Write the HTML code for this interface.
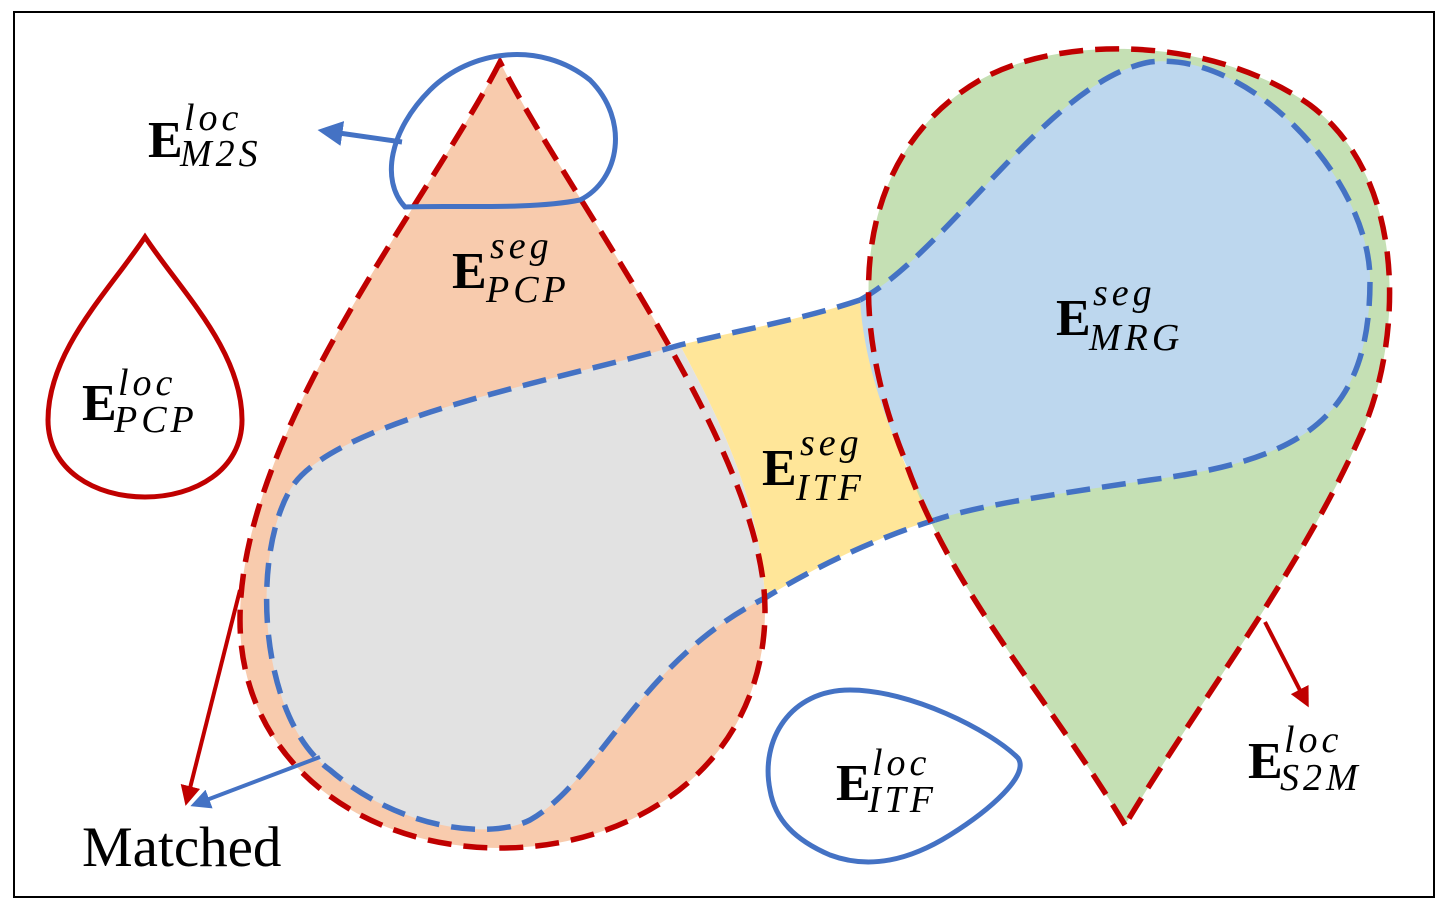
<!DOCTYPE html>
<html><head><meta charset="utf-8"><style>
html,body{margin:0;padding:0;background:#fff;}
svg{display:block;}
.E{font-family:"Liberation Serif",serif;font-weight:bold;font-size:52px;fill:#000;}
.s{font-family:"Liberation Serif",serif;font-style:italic;font-size:38px;fill:#000;letter-spacing:4px;}
</style></head><body>
<svg width="1448" height="909" viewBox="0 0 1448 909" xmlns="http://www.w3.org/2000/svg">
<defs>
<marker id="ab" markerWidth="5" markerHeight="5" refX="3.5" refY="2.5" orient="auto" markerUnits="strokeWidth"><path d="M0,0 L5,2.5 L0,5 Z" fill="#4472C4"/></marker>
<marker id="ar" markerWidth="5" markerHeight="5" refX="3.5" refY="2.5" orient="auto" markerUnits="strokeWidth"><path d="M0,0 L5,2.5 L0,5 Z" fill="#C00000"/></marker>
</defs>
<rect x="14" y="12" width="1420" height="885" fill="#fff" stroke="#000" stroke-width="2"/>

<path d="M500,62 C430,200 240,430 240,620 C240,760 360,848 500,848 C640,848 765,760 765,610 C765,450 570,200 500,62 Z" fill="#F8CBAD"/>
<path d="M680,345 C560,380 330,420 290,490 C250,560 260,720 330,770 C400,830 490,840 530,820 C600,780 640,660 765,598 C760,500 720,420 680,345 Z" fill="#E2E2E2"/>
<path d="M680,345 C740,330 800,320 860,300 C870,380 895,450 932,520 C870,540 810,570 765,598 C760,500 720,420 680,345 Z" fill="#FFE699"/>
<path d="M1125,825 C1050,700 950,590 905,460 C840,300 860,150 980,80 C1060,35 1210,35 1310,105 C1410,180 1400,340 1365,425 C1305,565 1200,700 1125,825 Z" fill="#C5E0B4"/>
<path d="M860,300 C950,250 1050,80 1150,62 C1250,50 1370,180 1370,280 C1370,420 1300,460 1150,480 C1050,495 980,505 935,520 C900,460 865,380 860,300 Z" fill="#BDD7EE"/>

<g fill="none" stroke="#4472C4" stroke-width="5.5" stroke-dasharray="24,12">
<path d="M860,300 C800,320 740,330 680,345 C560,380 330,420 290,490 C250,560 260,720 330,770 C400,830 490,840 530,820 C600,780 640,660 765,598 C810,570 870,540 935,520"/>
<path d="M860,300 C950,250 1050,80 1150,62 C1250,50 1370,180 1370,280 C1370,420 1300,460 1150,480 C1050,495 980,505 935,520"/>
</g>
<g fill="none" stroke="#C00000" stroke-width="5.5" stroke-dasharray="24,12">
<path d="M500,62 C430,200 240,430 240,620 C240,760 360,848 500,848 C640,848 765,760 765,610 C765,450 570,200 500,62 Z"/>
<path d="M1125,825 C1050,700 950,590 905,460 C840,300 860,150 980,80 C1060,35 1210,35 1310,105 C1410,180 1400,340 1365,425 C1305,565 1200,700 1125,825 Z"/>
</g>

<path d="M405,207 C380,180 390,130 430,90 C470,50 540,40 590,80 C630,120 620,180 580,200 C530,210 450,205 405,207 Z" fill="none" stroke="#4472C4" stroke-width="5"/>
<path d="M145,237 C110,290 48,350 48,420 C48,470 95,497 145,497 C195,497 242,470 242,420 C242,350 180,290 145,237 Z" fill="none" stroke="#C00000" stroke-width="5"/>
<path d="M770,790 C760,740 790,690 850,690 C910,690 990,730 1018,758 C1030,775 990,810 950,835 C910,860 870,870 830,855 C795,840 775,820 770,790 Z" fill="none" stroke="#4472C4" stroke-width="5"/>

<line x1="402" y1="142" x2="325" y2="131" stroke="#4472C4" stroke-width="5" marker-end="url(#ab)"/>
<line x1="240" y1="590" x2="187" y2="800" stroke="#C00000" stroke-width="4" marker-end="url(#ar)"/>
<line x1="320" y1="757" x2="196" y2="804" stroke="#4472C4" stroke-width="4" marker-end="url(#ab)"/>
<line x1="1265" y1="622" x2="1306" y2="702" stroke="#C00000" stroke-width="4" marker-end="url(#ar)"/>

<text class="E" x="148" y="157">E</text><text class="s" x="184" y="130">loc</text><text class="s" x="180" y="166" font-size="34">M2S</text>
<text class="E" x="452" y="288">E</text><text class="s" x="490" y="258">seg</text><text class="s" x="486" y="302">PCP</text>
<text class="E" x="82" y="420">E</text><text class="s" x="118" y="395">loc</text><text class="s" x="114" y="432">PCP</text>
<text class="E" x="762" y="485">E</text><text class="s" x="800" y="455">seg</text><text class="s" x="796" y="500">ITF</text>
<text class="E" x="1056" y="335">E</text><text class="s" x="1093" y="305">seg</text><text class="s" x="1089" y="350">MRG</text>
<text class="E" x="836" y="800">E</text><text class="s" x="872" y="775">loc</text><text class="s" x="868" y="812">ITF</text>
<text class="E" x="1248" y="778">E</text><text class="s" x="1284" y="752">loc</text><text class="s" x="1280" y="790">S2M</text>
<text x="82" y="866" font-family="Liberation Serif, serif" font-size="57" fill="#000">Matched</text>
</svg>
</body></html>
